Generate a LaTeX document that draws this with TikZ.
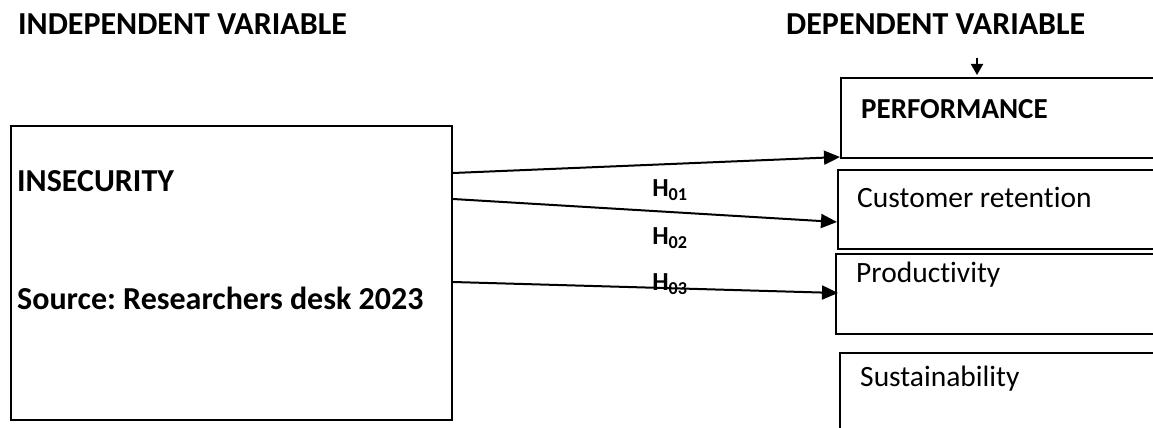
\documentclass[tikz,border=0pt]{standalone}
\usepackage{fontspec}
\setmainfont[Ligatures=NoCommon]{Carlito}
\usetikzlibrary{arrows.meta}
\tikzset{
  box/.style={draw, line width=2pt, anchor=north west, inner sep=0pt},
  lbl/.style={anchor=west, inner sep=0pt, font=\fontsize{29.5}{32}\selectfont},
  blbl/.style={lbl, font=\fontsize{32}{35}\selectfont\bfseries},
  arr/.style={line width=2pt, -{Triangle[length=16pt,width=14pt]}},
  hl/.style={inner sep=0pt, font=\fontsize{26}{29}\selectfont\bfseries},
}
\begin{document}
\frenchspacing
\begin{tikzpicture}[x=1pt,y=-1pt]
\useasboundingbox (0,0) rectangle (1153,428);
\clip (0,0) rectangle (1153,428);
% headings
\node[blbl] (indh) at (18,24) {INDEPENDENT VARIABLE};
\node[blbl] (deph) at (786,24) {DEPENDENT VARIABLE};
% left box
\node[box, minimum width=441pt, minimum height=294pt] (ind) at (10,125) {};
\node[blbl] (insec) at (17,181) {INSECURITY};
\node[blbl] (src) at (17,298) {Source: Researchers desk 2023};
% right boxes (open on the right, cut by the page edge)
\node[box, minimum width=340pt, minimum height=80pt] (perf) at (840,77) {};
\node[box, minimum width=340pt, minimum height=79pt] (cust) at (837,169) {};
\node[box, minimum width=340pt, minimum height=80pt] (prod) at (835,253) {};
\node[box, minimum width=340pt, minimum height=100pt] (sust) at (839,352) {};
\node[blbl, font=\fontsize{29}{32}\selectfont\bfseries] (perft) at (861,109) {PERFORMANCE};
\node[lbl] (custt) at (857,197) {Customer retention};
\node[lbl] (prodt) at (856,275) {Productivity};
\node[lbl] (sustt) at (860,379) {Sustainability};
% arrows
\coordinate (topa) at (977,58);
\draw[line width=2pt, -{Triangle[length=11pt,width=12pt]}, shorten >=2pt] (topa) -- (topa |- perf.north);
\draw[arr] ([yshift=-48pt]ind.north east) -- ([yshift=2pt]perf.south west);
\draw[arr] ([yshift=-74pt]ind.north east) -- ([yshift=-53pt]cust.north west);
\draw[arr] ([yshift=-157pt]ind.north east) -- ([yshift=-40pt,xshift=3pt]prod.north west);
% hypothesis labels
\node[hl] (h1) at (670,190) {H\textsubscript{01}};
\node[hl] (h2) at (670,238) {H\textsubscript{02}};
\node[hl] (h3) at (670,284) {H\textsubscript{03}};
\end{tikzpicture}
\end{document}
